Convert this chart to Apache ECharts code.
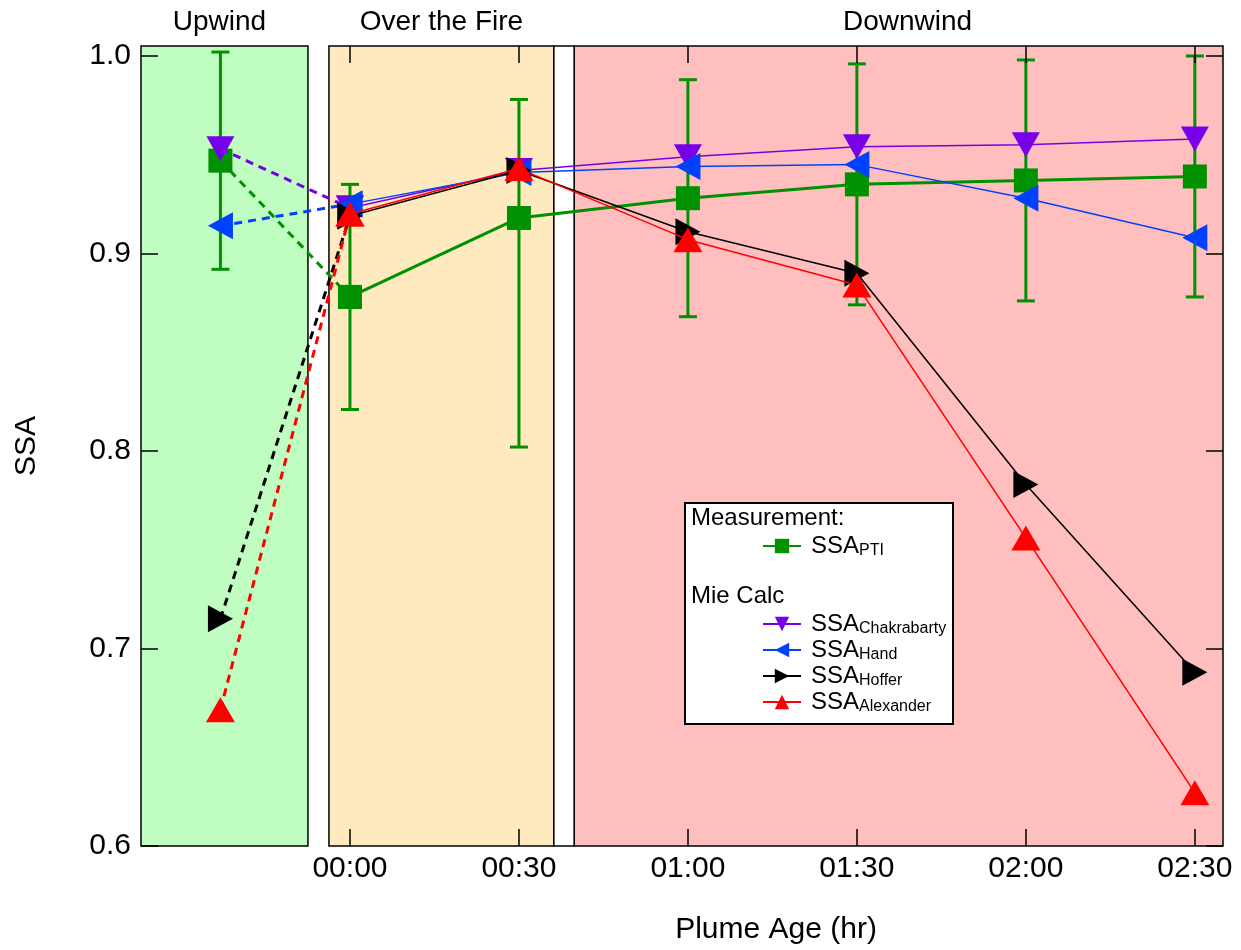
<!DOCTYPE html>
<html><head><meta charset="utf-8">
<script src="https://cdn.jsdelivr.net/npm/echarts@6/dist/echarts.min.js"></script>
<style>html,body{margin:0;padding:0;background:#fff}#c{width:1241px;height:950px}</style>
</head><body><div id="c"></div>
<script>
// ---- data ----
const plumeAgeMin = [-23, 0, 30, 60, 90, 120, 150];   // upwind, then plume age in minutes
const tickValues = [0, 30, 60, 90, 120, 150];
const tickLabels = ['00:00', '00:30', '01:00', '01:30', '02:00', '02:30'];
const yTickValues = [0.6, 0.7, 0.8, 0.9, 1.0];
const ssaPTI = [0.947, 0.878, 0.918, 0.928, 0.935, 0.937, 0.939];
const ssaPTIerrUp = [0.055, 0.057, 0.060, 0.060, 0.061, 0.061, 0.061];
const ssaPTIerrDown = [0.055, 0.057, 0.116, 0.060, 0.061, 0.061, 0.061];
const ssaChakrabarty = [0.953, 0.923, 0.942, 0.949, 0.954, 0.955, 0.958];
const ssaHand = [0.914, 0.925, 0.941, 0.944, 0.945, 0.928, 0.908];
const ssaHoffer = [0.715, 0.919, 0.942, 0.911, 0.890, 0.783, 0.688];
const ssaAlexander = [0.669, 0.920, 0.943, 0.907, 0.884, 0.756, 0.627];
const regionNames = ['Upwind', 'Over the Fire', 'Downwind'];
const regionBounds = [[-37.1, -7.46], [-3.73, 36.2], [39.8, 155]];
const gapBounds = [36.2, 39.8];
const X_MIN = -37.1, X_MAX = 155, Y_MIN = 0.6, Y_MAX = 1.00506;

// ---- style ----
const FONT = 'Liberation Sans, Arial, Helvetica, sans-serif';
const C = { pti: '#009100', chak: '#7800e8', hand: '#0040ff', hoffer: '#000000', alex: '#ff0000' };
const regionColors = ['#c0fdc0', '#ffe9bf', '#ffbfbf'];
const titleOffsets = [[-5, 0], [0, 0], [9, 0]];

const chart = echarts.init(document.getElementById('c'), null, { renderer: 'canvas' });

function pairs(arr, from, to) {
  const out = [];
  for (let i = from; i < to; i++) out.push([plumeAgeMin[i], arr[i]]);
  return out;
}

const seriesDefs = [
  { name: 'PTI', arr: ssaPTI, color: C.pti, symbol: 'rect', size: 24, rot: 0, width: 3 },
  { name: 'Chakrabarty', arr: ssaChakrabarty, color: C.chak, symbol: 'triangle', size: [28, 25], rot: 180, width: 1.5 },
  { name: 'Hand', arr: ssaHand, color: C.hand, symbol: 'triangle', size: [27, 25], rot: 90, width: 1.5 },
  { name: 'Hoffer', arr: ssaHoffer, color: C.hoffer, symbol: 'triangle', size: [27, 25], rot: -90, width: 1.5 },
  { name: 'Alexander', arr: ssaAlexander, color: C.alex, symbol: 'triangle', size: [29, 25], rot: 0, width: 1.5 }
];

const series = [];
// background regions
const areaData = regionBounds.map((b, i) => [
  { name: regionNames[i], xAxis: b[0], yAxis: Y_MIN,
    itemStyle: { color: regionColors[i], borderColor: '#000', borderWidth: 1.5 },
    label: { offset: titleOffsets[i] } },
  { xAxis: b[1], yAxis: Y_MAX }
]);
areaData.push([
  { name: '', xAxis: gapBounds[0], yAxis: Y_MIN, itemStyle: { color: '#ffffff', borderColor: '#000', borderWidth: 1.5 }, label: { show: false } },
  { xAxis: gapBounds[1], yAxis: Y_MAX }
]);
series.push({
  type: 'line', name: 'regions', data: [], z: 1, silent: true, clip: false,
  markArea: {
    silent: true,
    label: { show: true, position: 'top', distance: 9, color: '#000', fontSize: 28, fontFamily: FONT, formatter: '{b}' },
    data: areaData
  }
});

// error bars
series.push({
  type: 'custom', name: 'PTIerr', z: 3, clip: false,
  data: plumeAgeMin.map((x, i) => [x, ssaPTI[i] - ssaPTIerrDown[i], ssaPTI[i] + ssaPTIerrUp[i]]),
  renderItem: function (params, api) {
    const x = api.value(0);
    const pHi = api.coord([x, api.value(2)]);
    const pLo = api.coord([x, api.value(1)]);
    const cw = 9;
    const st = { stroke: C.pti, lineWidth: 3 };
    return {
      type: 'group', children: [
        { type: 'line', shape: { x1: pHi[0], y1: pHi[1], x2: pLo[0], y2: pLo[1] }, style: st },
        { type: 'line', shape: { x1: pHi[0] - cw, y1: pHi[1], x2: pHi[0] + cw, y2: pHi[1] }, style: st },
        { type: 'line', shape: { x1: pLo[0] - cw, y1: pLo[1], x2: pLo[0] + cw, y2: pLo[1] }, style: st }
      ]
    };
  }
});

seriesDefs.forEach((d, k) => {
  // dashed upwind -> 00:00 connection
  series.push({
    type: 'line', name: d.name + '_upwind', data: pairs(d.arr, 0, 2), z: 4 + k,
    symbol: d.symbol, symbolSize: d.size, symbolRotate: d.rot, showAllSymbol: true,
    itemStyle: { color: d.color }, lineStyle: { color: d.color, width: 3, type: [8, 6] },
    animation: false, silent: true, clip: false
  });
  // solid plume series
  series.push({
    type: 'line', name: d.name, data: pairs(d.arr, 1, plumeAgeMin.length), z: 10 + k,
    symbol: d.symbol, symbolSize: d.size, symbolRotate: d.rot, showAllSymbol: true,
    itemStyle: { color: d.color }, lineStyle: { color: d.color, width: d.width },
    animation: false, silent: true, clip: false
  });
});

const richText = {
  a: { fontSize: 24, fontFamily: FONT, color: '#000', lineHeight: 26, padding: [0, 0, 0, 5] },
  b: { fontSize: 16, fontFamily: FONT, color: '#000', lineHeight: 14, verticalAlign: 'bottom' }
};
const legendFmt = name => '{a|SSA}{b|' + name + '}';
const tickStyle = { show: true, inside: true, length: 17, lineStyle: { color: '#000', width: 1.5 } };
const hiddenLine = { show: false, onZero: false };

const option = {
  animation: false,
  backgroundColor: '#ffffff',
  grid: { left: 141, right: 18, top: 46, bottom: 104, containLabel: false },
  xAxis: [
    {
      type: 'value', min: X_MIN, max: X_MAX, position: 'bottom', z: 30,
      axisLine: hiddenLine, splitLine: { show: false },
      axisTick: Object.assign({ customValues: tickValues }, tickStyle),
      axisLabel: {
        show: true, customValues: tickValues, margin: 8, color: '#000', fontSize: 30, fontFamily: FONT,
        formatter: v => tickLabels[tickValues.indexOf(v)] || ''
      },
      name: 'Plume Age (hr)', nameLocation: 'middle', nameGap: 69,
      nameTextStyle: { color: '#000', fontSize: 30, fontFamily: FONT, padding: [0, 0, 0, 188] }
    },
    {
      type: 'value', min: X_MIN, max: X_MAX, position: 'top', z: 30,
      axisLine: hiddenLine, splitLine: { show: false },
      axisTick: Object.assign({ customValues: tickValues }, tickStyle),
      axisLabel: { show: false }
    }
  ],
  yAxis: [
    {
      type: 'value', min: Y_MIN, max: Y_MAX, interval: 0.1, position: 'left', z: 30,
      axisLine: hiddenLine, splitLine: { show: false },
      axisTick: Object.assign({ customValues: yTickValues }, tickStyle),
      axisLabel: { show: true, customValues: yTickValues, margin: 10, color: '#000', fontSize: 30, fontFamily: FONT, formatter: v => v.toFixed(1) },
      name: 'SSA', nameLocation: 'middle', nameGap: 99, nameRotate: 90,
      nameTextStyle: { color: '#000', fontSize: 30, fontFamily: FONT }
    },
    {
      type: 'value', min: Y_MIN, max: Y_MAX, interval: 0.1, position: 'right', z: 30,
      axisLine: hiddenLine, splitLine: { show: false },
      axisTick: Object.assign({ customValues: yTickValues }, tickStyle),
      axisLabel: { show: false }
    }
  ],
  legend: [
    {
      data: ['PTI'], orient: 'vertical', left: 757, top: 529, z: 20,
      itemWidth: 38, itemHeight: 18, itemGap: 2, selectedMode: false,
      formatter: legendFmt, textStyle: { rich: richText }
    },
    {
      data: ['Chakrabarty', 'Hand', 'Hoffer', 'Alexander'], orient: 'vertical', left: 757, top: 607, z: 20,
      itemWidth: 38, itemHeight: 18, itemGap: 1, selectedMode: false,
      formatter: legendFmt, textStyle: { rich: richText }
    }
  ],
  graphic: [
    { type: 'rect', z: 15, left: 684, top: 502, shape: { width: 268, height: 221 }, style: { fill: '#fff', stroke: '#000', lineWidth: 2 } },
    { type: 'text', z: 16, left: 691, top: 506, style: { text: 'Measurement:', fontSize: 24, fontFamily: FONT, fill: '#000' } },
    { type: 'text', z: 16, left: 691, top: 584, style: { text: 'Mie Calc', fontSize: 24, fontFamily: FONT, fill: '#000' } }
  ],
  series: series
};
chart.setOption(option);
</script>
</body></html>
